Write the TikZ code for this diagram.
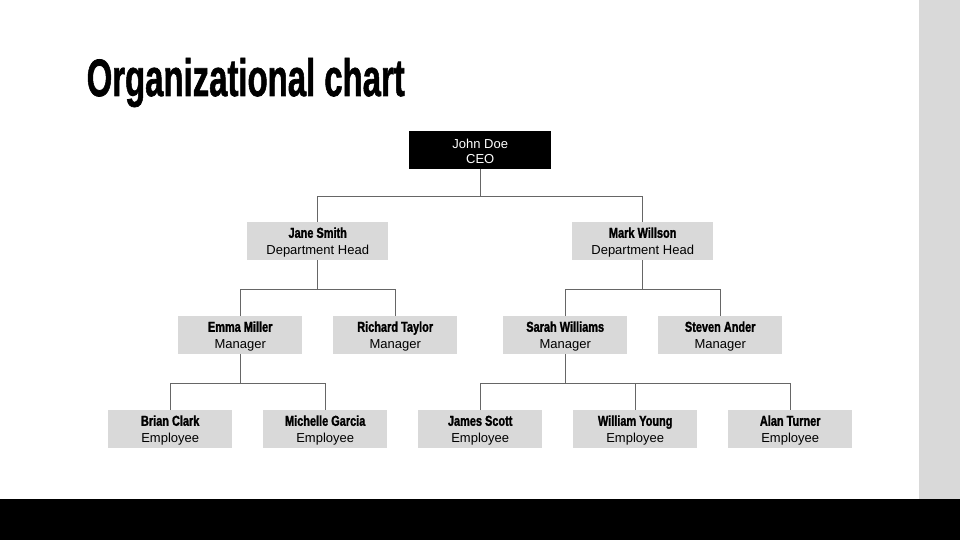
\documentclass[tikz,border=0pt]{standalone}
\usepackage{fontspec}
\usepackage{graphicx}
\setmainfont{Liberation Sans}
\newfontfamily\condfont[FakeStretch=0.76,FakeBold=1.4]{Liberation Sans Bold}
\newfontfamily\titlefontfam[FakeBold=1.5]{Liberation Sans Bold}
\newfontfamily\rolefontfam{Liberation Sans}
\definecolor{boxgray}{HTML}{D9D9D9}
\definecolor{panelgray}{HTML}{D9D9D9}
\definecolor{linegray}{HTML}{666666}
\tikzset{
  personbox/.style={draw=none, fill=boxgray, minimum height=38pt, inner sep=0pt, anchor=north west},
  ceobox/.style={personbox, fill=black},
  nametext/.style={anchor=base, inner sep=0pt, font=\condfont\fontsize{14.4}{16}\selectfont},
  roletext/.style={anchor=base, inner sep=0pt, font=\rolefontfam\fontsize{13}{15}\selectfont},
  conn/.style={draw=linegray, line width=1pt}
}
% \person{id}{x}{y}{width}{name}{role}
\newcommand{\person}[6]{%
  \node[personbox, minimum width=#4pt] (#1) at (#2,#3) {};
  \node[nametext] (#1n) at ([yshift=-15.8pt]#1.north) {#5};
  \node[roletext] (#1r) at ([yshift=-32.5pt]#1.north) {#6};
}
\begin{document}
\begin{tikzpicture}[x=1pt, y=-1pt]
\useasboundingbox (0,0) rectangle (960,540);
\fill[white] (0,0) rectangle (960,540);
\fill[panelgray] (919,0) rectangle (960,499);
\fill[black] (0,499) rectangle (960,540);

\node[anchor=base west, inner sep=0pt] (title) at (86.5,96)
  {\resizebox{318pt}{38pt}{\titlefontfam Organizational chart}};

\node[ceobox, minimum width=142pt] (ceo) at (409,131) {};
\node[roletext, text=white] (ceon) at ([yshift=-17.3pt]ceo.north) {John Doe};
\node[roletext, text=white] (ceor) at ([yshift=-33pt]ceo.north) {CEO};

\person{jane}{247}{222}{141}{Jane Smith}{Department Head}
\person{mark}{572}{222}{141}{Mark Willson}{Department Head}

\person{emma}{178}{316}{124}{Emma Miller}{Manager}
\person{richard}{333}{316}{124}{Richard Taylor}{Manager}
\person{sarah}{503}{316}{124}{Sarah Williams}{Manager}
\person{steven}{658}{316}{124}{Steven Ander}{Manager}

\person{brian}{108}{410}{124}{Brian Clark}{Employee}
\person{michelle}{263}{410}{124}{Michelle Garcia}{Employee}
\person{james}{418}{410}{124}{James Scott}{Employee}
\person{william}{573}{410}{124}{William Young}{Employee}
\person{alan}{728}{410}{124}{Alan Turner}{Employee}

% connectors
\draw[conn] (ceo.south) -- ++(0,27) coordinate (c1);
\draw[conn] (jane.north) |- (c1) -| (mark.north);

\draw[conn] (jane.south) -- ++(0,29) coordinate (c2);
\draw[conn] (emma.north) |- (c2) -| (richard.north);

\draw[conn] (mark.south) -- ++(0,29) coordinate (c3);
\draw[conn] (sarah.north) |- (c3) -| (steven.north);

\draw[conn] (emma.south) -- ++(0,29) coordinate (c4);
\draw[conn] (brian.north) |- (c4) -| (michelle.north);

\draw[conn] (sarah.south) -- ++(0,29) coordinate (c5);
\draw[conn] (james.north) |- (c5) -| (alan.north);
\draw[conn] (william.north) -- (william.north |- c5);
\end{tikzpicture}
\end{document}
